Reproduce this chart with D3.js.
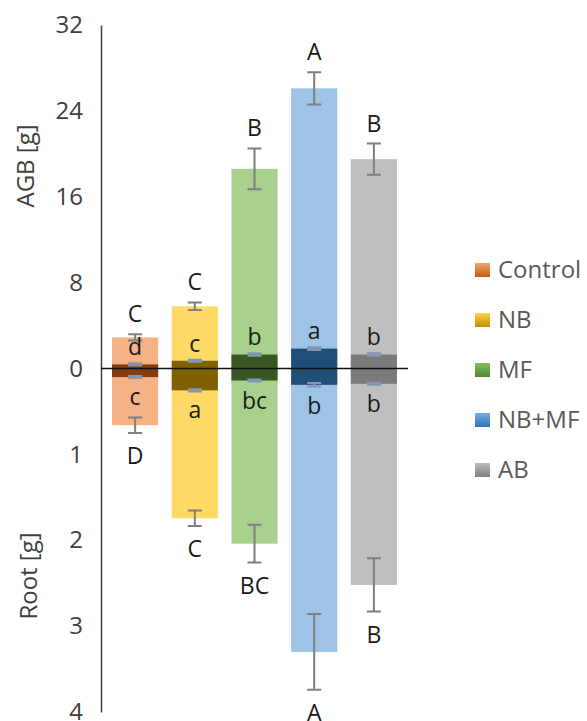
<!DOCTYPE html>
<html>
<head>
<meta charset="utf-8">
<script src="https://cdn.jsdelivr.net/npm/d3@7"></script>
<style>
    body { margin: 0; background: #fff; }
    text { font-family: "Open Sans", "Noto Sans", sans-serif; }
</style>
</head>
<body>
<div id="visual"></div>
<script>

// categories and values
var categories = ["Control", "NB", "MF", "NB+MF", "AB"];

var agbMean = [2.9, 5.8, 18.6, 26.1, 19.5];
var agbErr = [0.3, 0.35, 1.9, 1.5, 1.45];
var agbLetters = ["C", "C", "B", "A", "B"];

var rootMean = [0.66, 1.745, 2.04, 3.30, 2.52];
var rootErr = [0.09, 0.09, 0.22, 0.44, 0.31];
var rootLetters = ["D", "C", "BC", "A", "B"];

// dark inner bars (small values around zero)
var innerAgbMean = [0.38, 0.72, 1.3, 1.85, 1.3];
var innerAgbErr = [0.1, 0.1, 0.12, 0.12, 0.12];
var innerAgbLetters = ["d", "c", "b", "a", "b"];

var innerRootMean = [0.1, 0.255, 0.14, 0.19, 0.178];
var innerRootErr = [0.012, 0.012, 0.012, 0.02, 0.012];
var innerRootLetters = ["c", "a", "bc", "b", "b"];

var agbTicks = [0, 8, 16, 24, 32];
var rootTicks = [1, 2, 3, 4];

var lightColors = ["#F6B185", "#FFD966", "#A9D18E", "#9DC3E6", "#BFBFBF"];
var darkColors = ["#843C0C", "#7F6000", "#385723", "#1F4E79", "#7B7B7B"];
var legendTop = ["#F4A46E", "#FFD24D", "#86BE63", "#78AEE0", "#BDBDBD"];
var legendBottom = ["#C55A11", "#C09000", "#4E8A2E", "#2E75B6", "#7F7F7F"];

var w = 587, h = 721;

var svg = d3.select("#visual").append("svg")
    .attr("width", w)
    .attr("height", h);

var x = d3.scaleBand()
    .domain(categories)
    .range([101, 408])
    .paddingInner(0.227)
    .paddingOuter(0.185);

var yTop = d3.scaleLinear().domain([0, 32]).range([368.5, 25]);
var yBot = d3.scaleLinear().domain([0, 4]).range([368.5, 712]);

var rows = categories.map(function (c, i) {
    return {
        cat: c, i: i,
        agb: agbMean[i], agbE: agbErr[i], agbL: agbLetters[i],
        root: rootMean[i], rootE: rootErr[i], rootL: rootLetters[i],
        iAgb: innerAgbMean[i], iAgbE: innerAgbErr[i], iAgbL: innerAgbLetters[i],
        iRoot: innerRootMean[i], iRootE: innerRootErr[i], iRootL: innerRootLetters[i]
    };
});

// ****************** light bars ***************************
svg.selectAll("rect.agb")
    .data(rows).enter().append("rect")
    .attr("class", "agb")
    .attr("x", function (d) { return x(d.cat); })
    .attr("width", x.bandwidth())
    .attr("y", function (d) { return yTop(d.agb); })
    .attr("height", function (d) { return yTop(0) - yTop(d.agb); })
    .attr("fill", function (d) { return lightColors[d.i]; });

svg.selectAll("rect.root")
    .data(rows).enter().append("rect")
    .attr("class", "root")
    .attr("x", function (d) { return x(d.cat); })
    .attr("width", x.bandwidth())
    .attr("y", yBot(0))
    .attr("height", function (d) { return yBot(d.root) - yBot(0); })
    .attr("fill", function (d) { return lightColors[d.i]; });

// ****************** dark bars ***************************
svg.selectAll("rect.iagb")
    .data(rows).enter().append("rect")
    .attr("class", "iagb")
    .attr("x", function (d) { return x(d.cat); })
    .attr("width", x.bandwidth())
    .attr("y", function (d) { return yTop(d.iAgb); })
    .attr("height", function (d) { return yTop(0) - yTop(d.iAgb); })
    .attr("fill", function (d) { return darkColors[d.i]; });

svg.selectAll("rect.iroot")
    .data(rows).enter().append("rect")
    .attr("class", "iroot")
    .attr("x", function (d) { return x(d.cat); })
    .attr("width", x.bandwidth())
    .attr("y", yBot(0))
    .attr("height", function (d) { return yBot(d.iRoot) - yBot(0); })
    .attr("fill", function (d) { return darkColors[d.i]; });

// ****************** error bars ***************************
function errorBars(cls, y, meanKey, errKey, color) {
    var cap = 7;
    var g = svg.selectAll("g." + cls)
        .data(rows).enter().append("g")
        .attr("class", cls)
        .attr("stroke", color)
        .attr("stroke-width", 2)
        .attr("fill", "none");
    g.append("path")
        .attr("d", function (d) {
            var cx = x(d.cat) + x.bandwidth() / 2;
            var y1 = y(d[meanKey] - d[errKey]), y2 = y(d[meanKey] + d[errKey]);
            return "M" + cx + "," + y1 + "V" + y2
                + "M" + (cx - cap) + "," + y1 + "H" + (cx + cap)
                + "M" + (cx - cap) + "," + y2 + "H" + (cx + cap);
        });
}

errorBars("eagb", yTop, "agb", "agbE", "#7F7F7F");
errorBars("eroot", yBot, "root", "rootE", "#7F7F7F");
errorBars("eiagb", yTop, "iAgb", "iAgbE", "#8496B0");
errorBars("eiroot", yBot, "iRoot", "iRootE", "#8496B0");

// ****************** letters ***************************
function letters(cls, y, key, letterKey, above, offset, size) {
    svg.selectAll("text." + cls)
        .data(rows).enter().append("text")
        .attr("class", cls)
        .attr("x", function (d) { return x(d.cat) + x.bandwidth() / 2; })
        .attr("y", function (d) {
            return above ? y(d[key] + d[key + "E"]) - offset : y(d[key] + d[key + "E"]) + offset;
        })
        .attr("text-anchor", "middle")
        .attr("font-size", size)
        .attr("fill", "#1a1a1a")
        .text(function (d) { return d[letterKey]; });
}

letters("lagb", yTop, "agb", "agbL", true, 12, 23);
letters("lroot", yBot, "root", "rootL", false, 31, 23);
letters("liagb", yTop, "iAgb", "iAgbL", true, 8, 23);
letters("liroot", yBot, "iRoot", "iRootL", false, 27, 23);

// ****************** axes ***************************
var axisTop = d3.axisLeft(yTop).tickValues(agbTicks).tickFormat(d3.format("d"))
    .tickSize(0).tickSizeOuter(0).tickPadding(18);
var axisBot = d3.axisLeft(yBot).tickValues(rootTicks).tickFormat(d3.format("d"))
    .tickSize(0).tickSizeOuter(0).tickPadding(18);

[axisTop, axisBot].forEach(function (ax) {
    var g = svg.append("g")
        .attr("transform", "translate(101,0)")
        .call(ax);
    g.select(".domain").attr("stroke", "#404040").attr("stroke-width", 1.5);
    g.selectAll("text")
        .attr("font-size", 24)
        .attr("fill", "#404040")
        .style("font-family", "'Open Sans', sans-serif");
});

// zero line
svg.append("line")
    .attr("x1", 101).attr("x2", x.range()[1])
    .attr("y1", yTop(0)).attr("y2", yTop(0))
    .attr("stroke", "#111").attr("stroke-width", 1.5);

// axis titles
svg.append("text")
    .attr("transform", "translate(34,166) rotate(-90)")
    .attr("text-anchor", "middle")
    .attr("font-size", 24)
    .attr("fill", "#404040")
    .text("AGB [g]");

svg.append("text")
    .attr("transform", "translate(37,576) rotate(-90)")
    .attr("text-anchor", "middle")
    .attr("font-size", 24)
    .attr("fill", "#404040")
    .text("Root [g]");

// ****************** legend ***************************
var defs = svg.append("defs");
categories.forEach(function (c, i) {
    var grad = defs.append("linearGradient")
        .attr("id", "lg" + i)
        .attr("x1", 0).attr("y1", 0).attr("x2", 0).attr("y2", 1);
    grad.append("stop").attr("offset", "0%").attr("stop-color", legendTop[i]);
    grad.append("stop").attr("offset", "100%").attr("stop-color", legendBottom[i]);
});

var legend = svg.selectAll("g.legend")
    .data(categories).enter().append("g")
    .attr("class", "legend")
    .attr("transform", function (d, i) { return "translate(475," + (270 + i * 50) + ")"; });

legend.append("rect")
    .attr("x", 0).attr("y", -7)
    .attr("width", 15).attr("height", 14)
    .attr("fill", function (d, i) { return "url(#lg" + i + ")"; });

legend.append("text")
    .attr("x", 23).attr("y", 0)
    .attr("dy", "0.35em")
    .attr("font-size", 24)
    .attr("fill", "#595959")
    .text(function (d) { return d; });

</script>
</body>
</html>
